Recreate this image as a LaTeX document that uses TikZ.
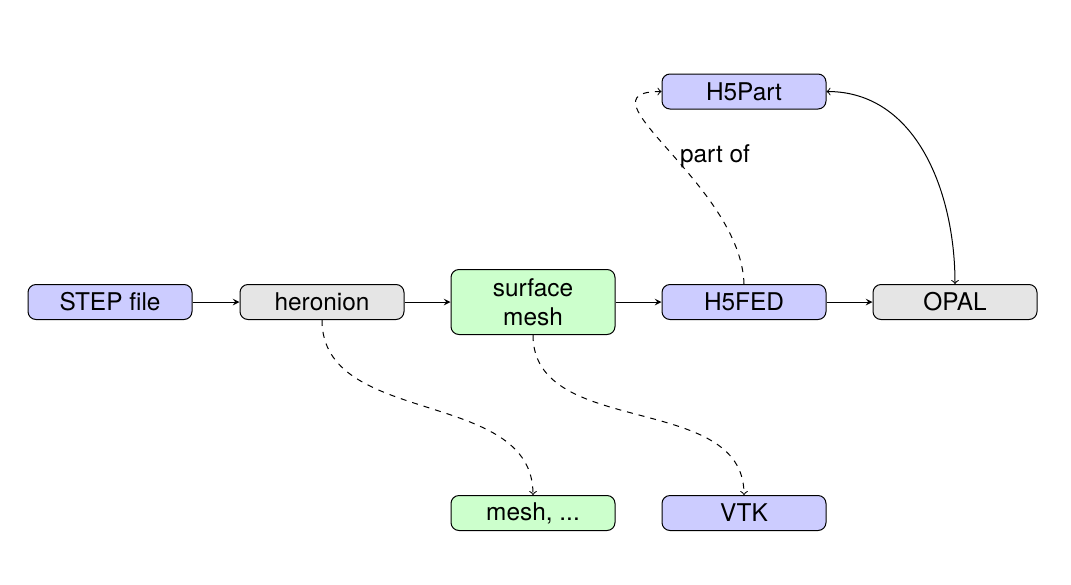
\documentclass[tikz,border=0pt]{standalone}
\usepackage{fontspec}
\setmainfont{TeX Gyre Heros}
\usetikzlibrary{arrows}
\tikzset{
  box/.style={draw, rounded corners=4pt, minimum width=82pt, minimum height=17.5pt, inner sep=2pt, align=center, font=\fontsize{12.2}{14.5}\selectfont, line width=0.5pt},
  bluebox/.style={box, fill=blue!20},
  graybox/.style={box, fill=gray!20},
  greenbox/.style={box, fill=green!20},
  flow/.style={-stealth, line width=0.5pt},
  side/.style={->, dashed, line width=0.5pt},
}
\begin{document}
\begin{tikzpicture}[x=0.5pt, y=-0.5pt]
\useasboundingbox (0,0) rectangle (1071,584);
\node[bluebox] (step) at (110,302) {STEP file};
\node[graybox] (heronion) at (322,302) {heronion};
\node[greenbox, minimum height=32.5pt] (surface) at (533,302) {surface\\mesh};
\node[bluebox] (h5fed) at (744,302) {H5FED};
\node[graybox] (opal) at (955,302) {OPAL};
\node[bluebox] (h5part) at (744,91.5) {H5Part};
\node[greenbox] (mesh) at (533,513) {mesh, ...};
\node[bluebox] (vtk) at (744,513) {VTK};
\node[font=\fontsize{12.2}{14.5}\selectfont, inner sep=0pt] (partof) at (715,156) {part of};

\draw[flow] (step) -- (heronion);
\draw[flow] (heronion) -- (surface);
\draw[flow] (surface) -- (h5fed);
\draw[flow] (h5fed) -- (opal);
\draw[side] (heronion.south) to[out=-90, in=90] (mesh.north);
\draw[side] (surface.south) to[out=-90, in=90] (vtk.north);
\draw[side] (h5fed.north) .. controls +(-3,-100) and +(-88,0) .. (h5part.west);
\draw[<->, line width=0.5pt] (h5part.east) to[out=0, in=90] (opal.north);
\end{tikzpicture}
\end{document}
